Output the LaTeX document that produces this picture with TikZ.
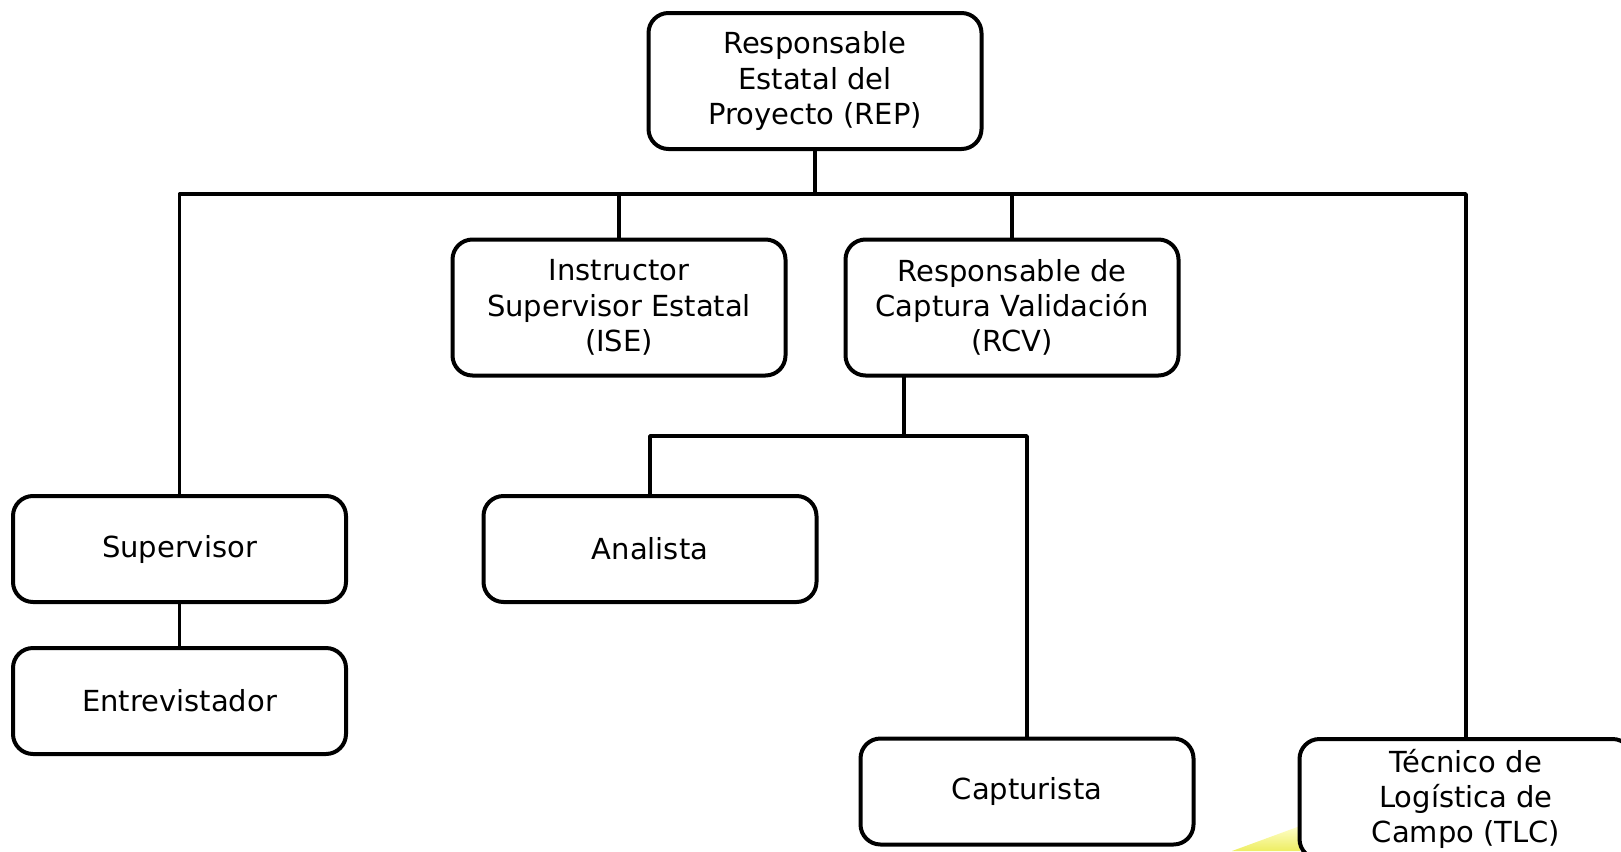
\documentclass[tikz,border=0pt]{standalone}
\usepackage{fontspec}
\setmainfont{DejaVu Sans}
\usetikzlibrary{calc}

\begin{document}
\begin{tikzpicture}[
    x=0.5pt,
    y=-0.5pt,
    line join=round,
    line cap=round,
    caja/.style={draw, line width=2pt, rounded corners=10pt, fill=white,
        minimum width=166.5pt, inner sep=0pt, align=center,
        font=\fontsize{14.5}{17.6}\selectfont},
    alta/.style={minimum height=68pt},
    baja/.style={minimum height=53pt},
    linea/.style={line width=1.8pt}
]
\useasboundingbox (0,0) rectangle (1621,851);

% fondo
\shade[top color=yellow!20!white, bottom color=yellow!75!olive!55!white]
    (1232,851) -- (1300,826) -- (1300,851) -- cycle;

% cajas
\node[caja,alta] (rep) at (815,81) {Responsable\\Estatal del\\Proyecto (REP)};
\node[caja,alta] (ise) at (619,307.5) {Instructor\\Supervisor Estatal\\(ISE)};
\node[caja,alta] (rcv) at (1012,307.5) {Responsable de\\Captura Validación\\(RCV)};
\node[caja,baja] (sup) at (179.5,549) {Supervisor};
\node[caja,baja] (ent) at (179.5,701) {Entrevistador};
\node[caja,baja] (ana) at (650,549) {Analista};
\node[caja,baja] (cap) at (1027,791.5) {Capturista};
\node[caja,minimum height=60pt] (tlc) at (1466,799) {Técnico de\\Logística de\\Campo (TLC)};

% lineas
\coordinate (bus) at (0,194);
\coordinate (sub) at (0,436);
\coordinate (rcvd) at ($(rcv.south west)!0.18!(rcv.south east)$);

\draw[linea] (sup.north) |- (tlc.north |- bus) -- (tlc.north);
\draw[linea] (rep.south) -- (rep.south |- bus);
\draw[linea] (ise.north) -- (ise.north |- bus);
\draw[linea] (rcv.north) -- (rcv.north |- bus);
\draw[linea] (sup.south) -- (ent.north);

\draw[linea] (rcvd) -- (rcvd |- sub);
\draw[linea] (ana.north) |- (cap.north |- sub) -- (cap.north);

\end{tikzpicture}
\end{document}
